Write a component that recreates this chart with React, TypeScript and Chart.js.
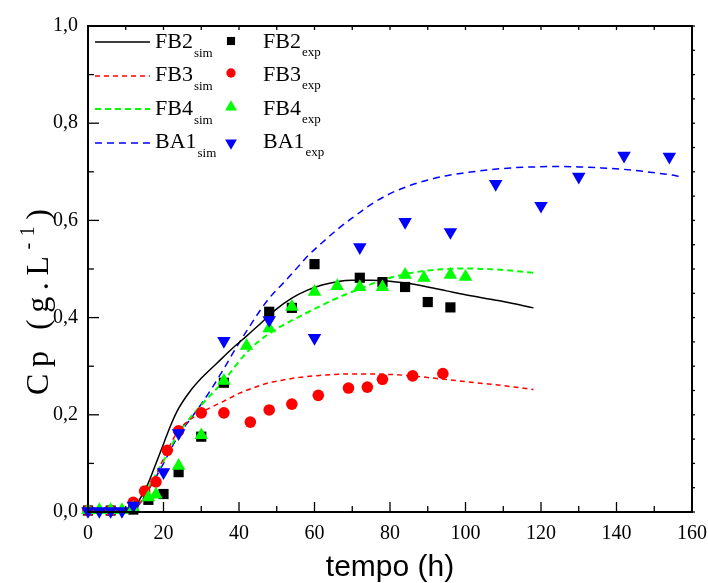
import React, { useEffect, useRef } from "react";
import { Chart, registerables } from "chart.js";
Chart.register(...registerables);

// ---------- data ----------
const SERIES = ["FB2", "FB3", "FB4", "BA1"];
const COLORS = ["#000000", "#ff0000", "#00ff00", "#0000ff"];
const X_TICKS_STEP = 20;
const Y_TICKS_STEP = 0.2;
const X_TITLE = "tempo (h)";

const FB2_SIM_T = [0, 10, 12, 14, 16, 18, 20, 22, 24, 27, 30, 34, 38, 42, 46, 50, 54, 58, 62, 66, 70, 75, 80, 85, 90, 95, 100, 105, 110, 118];
const FB2_SIM_V = [0.004, 0.004, 0.008, 0.03, 0.06, 0.1, 0.14, 0.18, 0.213, 0.248, 0.275, 0.305, 0.335, 0.362, 0.39, 0.418, 0.44, 0.456, 0.467, 0.474, 0.477, 0.477, 0.475, 0.47, 0.463, 0.455, 0.447, 0.44, 0.433, 0.42];

const FB3_SIM_T = [0, 10, 12, 14, 16, 18, 20, 22, 24, 27, 30, 33, 36, 40, 44, 48, 52, 56, 60, 65, 70, 75, 80, 86, 92, 98, 104, 110, 118];
const FB3_SIM_V = [0.003, 0.003, 0.006, 0.02, 0.045, 0.075, 0.11, 0.142, 0.168, 0.19, 0.205, 0.217, 0.228, 0.244, 0.256, 0.266, 0.272, 0.277, 0.28, 0.283, 0.284, 0.284, 0.283, 0.28, 0.275, 0.27, 0.265, 0.26, 0.252];

const FB4_SIM_T = [0, 10, 12, 14, 16, 18, 20, 22, 24, 27, 30, 33, 36, 39, 42, 45, 48, 52, 56, 60, 64, 68, 72, 76, 80, 85, 90, 95, 100, 105, 110, 118];
const FB4_SIM_V = [0.005, 0.005, 0.008, 0.025, 0.05, 0.078, 0.105, 0.135, 0.163, 0.193, 0.22, 0.245, 0.27, 0.3, 0.328, 0.35, 0.367, 0.386, 0.402, 0.418, 0.433, 0.447, 0.459, 0.472, 0.482, 0.491, 0.497, 0.5, 0.501, 0.5, 0.498, 0.492];

const BA1_SIM_T = [0, 10, 12, 14, 16, 18, 20, 22, 24, 27, 30, 33, 36, 39, 42, 45, 48, 51, 54, 58, 62, 66, 70, 75, 80, 85, 90, 95, 100, 106, 112, 118, 124, 130, 136, 142, 148, 154, 157];
const BA1_SIM_V = [0.002, 0.002, 0.004, 0.02, 0.045, 0.072, 0.1, 0.13, 0.158, 0.19, 0.222, 0.257, 0.295, 0.335, 0.372, 0.408, 0.44, 0.465, 0.49, 0.525, 0.554, 0.581, 0.605, 0.633, 0.655, 0.671, 0.683, 0.692, 0.698, 0.704, 0.708, 0.71, 0.711, 0.71, 0.708, 0.705, 0.7, 0.694, 0.69];

const FB2_EXP_T = [0, 6, 12, 16, 20, 24, 30, 36, 48, 54, 60, 72, 78, 84, 90, 96];
const FB2_EXP_V = [0.003, 0.003, 0.005, 0.025, 0.037, 0.082, 0.155, 0.266, 0.412, 0.42, 0.51, 0.482, 0.473, 0.463, 0.432, 0.421];

const FB3_EXP_T = [0, 6, 12, 15, 18, 21, 24, 30, 36, 43, 48, 54, 61, 69, 74, 78, 86, 94];
const FB3_EXP_V = [0.003, 0.003, 0.02, 0.043, 0.062, 0.127, 0.167, 0.204, 0.204, 0.185, 0.21, 0.222, 0.24, 0.255, 0.257, 0.273, 0.28, 0.285];

const FB4_EXP_T = [0, 3, 6, 9, 12, 16, 18, 24, 30, 36, 42, 48, 54, 60, 66, 72, 78, 84, 89, 96, 100];
const FB4_EXP_V = [0.004, 0.004, 0.004, 0.004, 0.008, 0.03, 0.036, 0.095, 0.158, 0.27, 0.342, 0.378, 0.422, 0.453, 0.465, 0.463, 0.463, 0.488, 0.482, 0.488, 0.484];

const BA1_EXP_T = [0, 3, 6, 9, 12, 20, 24, 36, 48, 60, 72, 84, 96, 108, 120, 130, 142, 154];
const BA1_EXP_V = [0.002, 0.002, 0.002, 0.002, 0.013, 0.082, 0.162, 0.352, 0.395, 0.358, 0.545, 0.597, 0.576, 0.675, 0.63, 0.69, 0.733, 0.731];

// ---------- style ----------
const SERIF = '"Liberation Serif", "Times New Roman", serif';
const SANS = '"Liberation Sans", Arial, sans-serif';
const DASHES = [[], [5, 4], [6, 4], [7, 5]];

function pts(t: number[], v: number[]) {
  return t.map((x, i) => ({ x, y: v[i] }));
}

function drawMarker(ctx: CanvasRenderingContext2D, kind: number, x: number, y: number, s: number) {
  ctx.beginPath();
  if (kind === 0) {
    ctx.rect(x - s * 0.7, y - s * 0.7, s * 1.4, s * 1.4);
  } else if (kind === 1) {
    ctx.arc(x, y, s * 0.75, 0, Math.PI * 2);
  } else if (kind === 2) {
    ctx.moveTo(x, y - s);
    ctx.lineTo(x + s * 0.866, y + s * 0.5);
    ctx.lineTo(x - s * 0.866, y + s * 0.5);
    ctx.closePath();
  } else {
    ctx.moveTo(x, y + s);
    ctx.lineTo(x + s * 0.866, y - s * 0.5);
    ctx.lineTo(x - s * 0.866, y - s * 0.5);
    ctx.closePath();
  }
  ctx.fill();
}

const overlay = {
  id: "overlay",
  afterDraw(chart: any) {
    const ctx: CanvasRenderingContext2D = chart.ctx;
    const { left, right, top, bottom } = chart.chartArea;
    const xs = chart.scales.x;
    const ys = chart.scales.y;
    ctx.save();
    ctx.strokeStyle = "#000";
    ctx.lineWidth = 2;
    ctx.strokeRect(left, top, right - left, bottom - top);
    ctx.lineWidth = 1.3;
    for (let t = 0; t <= 160; t += 10) {
      const x = xs.getPixelForValue(t);
      const len = t % 20 === 0 ? 10 : 6;
      ctx.beginPath();
      ctx.moveTo(x, bottom);
      ctx.lineTo(x, bottom - len);
      ctx.moveTo(x, top);
      ctx.lineTo(x, top + 4);
      ctx.stroke();
    }
    for (let i = 0; i <= 10; i++) {
      const y = ys.getPixelForValue(i / 10);
      const len = i % 2 === 0 ? 11 : 6;
      ctx.beginPath();
      ctx.moveTo(left, y);
      ctx.lineTo(left + len, y);
      ctx.stroke();
    }
    for (let i = 0; i <= 20; i++) {
      const y = ys.getPixelForValue(i / 20);
      ctx.beginPath();
      ctx.moveTo(right, y);
      ctx.lineTo(right + 3, y);
      ctx.stroke();
    }

    // legend
    const rowLine = [42, 76, 109, 143];
    const rowMark = [41, 73, 107, 143];
    const rowBase = [48, 81, 115, 148];
    for (let r = 0; r < SERIES.length; r++) {
      ctx.strokeStyle = COLORS[r];
      ctx.lineWidth = r === 2 ? 2 : 1.5;
      ctx.setLineDash(DASHES[r]);
      ctx.beginPath();
      ctx.moveTo(95, rowLine[r]);
      ctx.lineTo(150, rowLine[r]);
      ctx.stroke();
      ctx.setLineDash([]);
      ctx.fillStyle = COLORS[r];
      drawMarker(ctx, r, 231, rowMark[r], r === 0 ? 5.8 : r === 1 ? 6.2 : 6.8);
      ctx.fillStyle = "#000";
      ctx.textAlign = "left";
      ctx.textBaseline = "alphabetic";
      ctx.font = `22px ${SERIF}`;
      ctx.fillText(SERIES[r], 155, rowBase[r]);
      const w1 = ctx.measureText(SERIES[r]).width;
      ctx.fillText(SERIES[r], 263, rowBase[r]);
      ctx.font = `13px ${SERIF}`;
      ctx.fillText("sim", 155 + w1 + 1, rowBase[r] + 9);
      ctx.fillText("exp", 263 + w1 + 1, rowBase[r] + 8);
    }

    // y title with superscript, drawn rotated
    ctx.translate(48, 395);
    ctx.rotate(-Math.PI / 2);
    const parts: [string, number, number][] = [];
    const main = "Cp (g.L";
    for (const ch of main) parts.push([ch, 32, 0]);
    parts.push(["-", 20, -14]);
    parts.push(["1", 20, -14]);
    parts.push([")", 32, 0]);
    let natural = 0;
    for (const p of parts) {
      ctx.font = `${p[1]}px ${SERIF}`;
      natural += ctx.measureText(p[0]).width;
    }
    const target = 186;
    const extra = Math.max(0, (target - natural) / (parts.length - 1));
    let px = 0;
    ctx.fillStyle = "#000";
    for (const p of parts) {
      ctx.font = `${p[1]}px ${SERIF}`;
      ctx.fillText(p[0], px, p[2]);
      px += ctx.measureText(p[0]).width + extra;
    }
    ctx.restore();
  },
};

export default function App() {
  const ref = useRef<HTMLCanvasElement>(null);
  useEffect(() => {
    const simT = [FB2_SIM_T, FB3_SIM_T, FB4_SIM_T, BA1_SIM_T];
    const simV = [FB2_SIM_V, FB3_SIM_V, FB4_SIM_V, BA1_SIM_V];
    const expT = [FB2_EXP_T, FB3_EXP_T, FB4_EXP_T, BA1_EXP_T];
    const expV = [FB2_EXP_V, FB3_EXP_V, FB4_EXP_V, BA1_EXP_V];
    const styles = ["rect", "circle", "triangle", "triangle"];
    const radii = [7.2, 5.8, 7.8, 7.8];
    const datasets: any[] = [];
    SERIES.forEach((name, i) => {
      datasets.push({
        label: name + " sim",
        data: pts(simT[i], simV[i]),
        showLine: true,
        borderColor: COLORS[i],
        borderWidth: i === 2 ? 2 : 1.5,
        borderDash: DASHES[i],
        pointRadius: 0,
        cubicInterpolationMode: "monotone",
        fill: false,
        order: 10 + i,
      });
    });
    SERIES.forEach((name, i) => {
      datasets.push({
        label: name + " exp",
        data: pts(expT[i], expV[i]),
        showLine: false,
        pointStyle: styles[i],
        rotation: i === 3 ? 180 : 0,
        pointRadius: radii[i],
        pointBackgroundColor: COLORS[i],
        pointBorderColor: COLORS[i],
        pointBorderWidth: 0,
        clip: false,
        order: 4 - i,
      });
    });
    const chart = new Chart(ref.current!, {
      type: "scatter",
      data: { datasets },
      options: {
        responsive: false,
        animation: false,
        layout: { padding: { left: 0, top: 26, right: 16, bottom: 0 } },
        plugins: { legend: { display: false }, tooltip: { enabled: false } },
        scales: {
          x: {
            type: "linear",
            min: 0,
            max: 160,
            afterFit: (s: any) => {
              s.height = 71;
              s.paddingRight = 0;
              s.paddingLeft = 0;
            },
            grid: { display: false, drawTicks: false },
            border: { display: false },
            ticks: {
              stepSize: X_TICKS_STEP,
              padding: 10,
              color: "#000",
              maxRotation: 0,
              autoSkip: false,
              font: { family: SERIF, size: 20 },
              callback: (v: any) => String(v),
            },
            title: {
              display: true,
              text: X_TITLE,
              color: "#000",
              font: { family: SANS, size: 30 },
              padding: { top: 0, bottom: -3 },
            },
          },
          y: {
            type: "linear",
            min: 0,
            max: 1,
            afterFit: (s: any) => {
              s.width = 88;
              s.paddingTop = 0;
              s.paddingBottom = 0;
            },
            grid: { display: false, drawTicks: false },
            border: { display: false },
            ticks: {
              stepSize: Y_TICKS_STEP,
              padding: 10,
              color: "#000",
              font: { family: SERIF, size: 20 },
              callback: (v: any) => Number(v).toFixed(1).replace(".", ","),
            },
          },
        },
      } as any,
      plugins: [overlay],
    });
    return () => chart.destroy();
  }, []);
  return (
    <div style={{ position: "fixed", left: 0, top: 0, width: 708, height: 583, background: "#fff" }}>
      <canvas ref={ref} width={708} height={583} style={{ width: 708, height: 583, display: "block" }} />
    </div>
  );
}
